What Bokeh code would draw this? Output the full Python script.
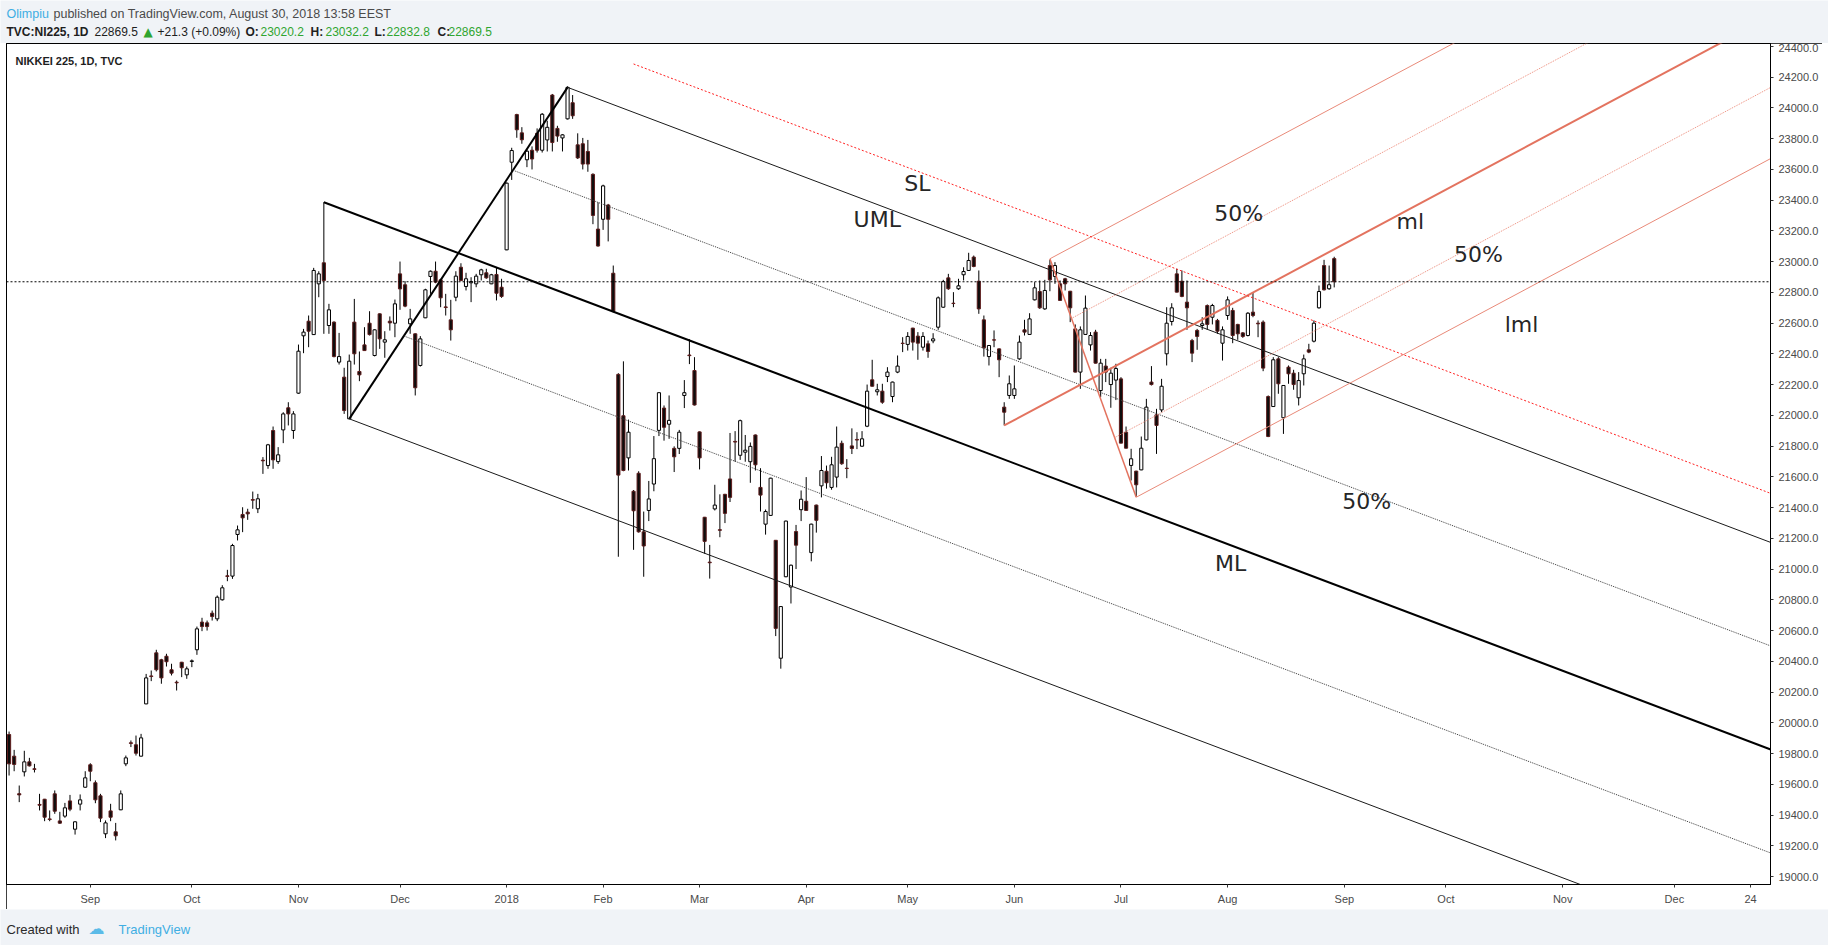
import numpy as np
import pandas as pd
from bokeh.plotting import figure
from bokeh.models import Range1d, FixedTicker, PrintfTickFormatter, Label, Span, Spacer
from bokeh.layouts import column, row
from bokeh.embed import file_html
from bokeh.resources import INLINE
from bokeh.core.properties import value

GRAY = "#f0f3f7"

# ------------------------------------------------------------------ data
start_date = "2017-08-09"
end_date = "2018-12-31"
jp_holidays = ["2017-08-11", "2017-09-18", "2017-10-09", "2017-11-03", "2017-11-23",
               "2018-01-01", "2018-01-02", "2018-01-03", "2018-01-08", "2018-02-12",
               "2018-03-21", "2018-04-30", "2018-05-03", "2018-05-04", "2018-07-16"]

opens = [19925,19784,19540,19682,19747,19702,19470,19504,19376,19539,19363,19394,19493,19309,19472,19582,
         19728,19611,19526,19279,19428,19292,19435,19734,19871,19858,19784,20124,20306,20456,20411,20434,20346,20265,20395,20313,
         20400,20476,20656,20651,20714,20677,20801,20957,20955,21226,21356,21371,21453,21393,21709,21674,21902,21700,21906,22050,21902,
         22145,22518,22613,22526,22856,22993,22585,22607,22347,22249,21978,22607,22286,22459,22600,22390,22661,22477,22613,22600,
         22921,22850,22596,22531,22325,22635,22904,22938,22882,22706,22622,22769,22964,22839,22863,22856,22915,22928,22856,22917,22834,
         23077,23647,23957,23838,23663,23725,23835,23725,23792,24084,23867,23805,23929,24034,23760,23767,23717,23568,23212,
         23276,23369,22925,22267,21998,21724,21507,21624,21243,21382,21554,21903,22048,21943,21786,21786,22130,22393,22292,
         21893,21338,21046,21392,21257,21487,21587,21831,21741,21761,21699,21873,21532,21293,21350,21188,20421,20951,20884,21245,21387,
         21442,21108,21417,21542,21637,21532,21599,21819,21657,21802,21844,21800,21930,22232,22154,22158,22253,22123,22282,22470,
         22462,22568,22516,22444,22466,22485,22574,22704,22895,22730,22824,22915,22943,23030,22873,22622,22383,22492,22433,22054,22130,
         22130,22368,22557,22527,22752,22806,22693,22975,22904,22856,22889,22808,22563,22282,22527,22459,22542,22162,22321,22201,22230,
         22238,21891,21675,21638,21646,21841,22217,22004,22036,22401,22611,22921,22873,22737,22487,22553,22585,22715,22639,22618,22470,
         22650,22683,22592,22537,22520,22672,22600,22607,22123,22058,22368,21985,22314,22275,22115,22271,22427,22483,22700,22975,22824,23020.2]
highs = [19944,19825,19593,19819,19773,19734,19539,19506,19431,19561,19422,19480,19532,19361,19535,19686,
         19738,19626,19539,19366,19474,19350,19561,19788,19886,19918,19929,20319,20341,20476,20417,20450,20385,20276,20397,20367,
         20413,20627,20684,20666,20731,20829,20896,20996,21165,21284,21403,21393,21505,21490,21729,21815,21928,21794,22021,22086,22028,
         22461,22563,22650,22960,22938,23387,22726,22612,22537,22310,22396,22758,22416,22574,22678,22560,22664,22548,22644,22754,
         23001,22873,22693,22534,22516,22824,22943,23001,22889,22791,22752,22938,22990,22928,22899,22921,22954,22954,22921,22964,22889,
         23515,23741,23962,23875,23734,23750,23867,23967,23917,24091,23884,23830,24141,24084,23835,23805,23792,23575,23386,
         23501,23376,22975,22275,22352,21973,21515,21637,21375,21574,21866,22150,22065,22130,21799,21906,22230,22496,22379,
         21896,21340,21158,21549,21487,21490,21886,21898,21973,21873,21824,21876,21657,21388,21595,21190,20760,21316,21030,21288,21512,
         21599,21296,21420,21736,21674,21731,21928,21836,21716,21916,21891,21898,22201,22362,22206,22206,22314,22220,22390,22509,
         22542,22570,22542,22542,22487,22535,22774,22882,22921,22802,22889,22964,23058,23040,22943,22650,22458,22553,22436,22086,22260,
         22325,22520,22622,22665,22867,22878,22882,23012,22997,22878,22895,22810,22592,22579,22780,22542,22557,22368,22368,22310,22336,
         22249,21928,21783,21640,21863,22108,22321,22043,22238,22704,22730,22954,22943,22878,22498,22563,22639,22722,22726,22628,22579,
         22774,22700,22596,22542,22672,22802,22618,22618,22130,22379,22379,22198,22325,22297,22282,22396,22466,22618,22845,23012,22975,23032.2]
lows = [19658,19686,19485,19652,19717,19678,19431,19361,19361,19409,19344,19383,19426,19274,19431,19580,
        19621,19478,19355,19251,19361,19236,19433,19719,19843,19788,19782,20122,20272,20335,20255,20367,20309,20211,20298,20287,
        20363,20443,20597,20601,20666,20662,20796,20922,20937,21187,21241,21321,21393,21365,21620,21653,21653,21685,21820,21935,21848,
        22141,22405,22444,22524,22769,22531,22531,22378,22331,22010,21976,22331,22223,22420,22520,22384,22433,22375,22552,22509,
        22687,22704,22531,22130,22318,22633,22791,22860,22704,22650,22487,22743,22873,22813,22737,22834,22878,22889,22854,22748,22765,
        23075,23532,23806,23767,23615,23600,23710,23710,23717,23717,23780,23717,23925,23929,23668,23600,23585,23244,23098,
        23207,23132,22671,21081,21637,21642,21126,21238,20951,21313,21507,21866,21836,21848,21632,21749,22048,22334,22065,
        21649,21101,20939,21382,21208,21300,21437,21699,21711,21699,21562,21642,21375,21225,21347,20565,20353,20948,20777,21001,21313,
        21380,21051,21238,21467,21524,21517,21532,21679,21592,21749,21781,21798,21924,22188,22130,22076,22217,22086,22275,22412,
        22422,22422,22362,22422,22375,22470,22557,22700,22817,22704,22817,22878,22940,22964,22661,22383,22325,22444,22249,21935,22108,
        22108,22362,22520,22525,22748,22693,22687,22808,22856,22745,22813,22607,22280,22173,22525,22422,22338,22119,22217,22050,22100,
        21818,21785,21577,21473,21644,21838,22195,21750,22021,22325,22585,22800,22769,22557,22347,22427,22557,22557,22592,22531,22357,
        22622,22470,22492,22505,22514,22639,22509,22288,21859,22055,22141,21880,22206,22167,22065,22195,22405,22475,22695,22813,22817,22832.8]
closes = [19734,19730,19532,19747,19721,19698,19465,19387,19372,19426,19348,19448,19439,19357,19500,19643,
          19686,19500,19381,19350,19387,19266,19539,19773,19867,19803,19903,20293,20302,20346,20293,20398,20324,20261,20359,20352,
          20404,20612,20627,20627,20692,20818,20879,20953,21154,21256,21334,21360,21449,21458,21705,21809,21711,21744,22010,22010,22010,
          22418,22542,22548,22943,22921,22878,22687,22383,22383,22032,22353,22401,22264,22422,22526,22557,22498,22492,22602,22726,
          22823,22711,22628,22180,22498,22817,22938,22867,22765,22702,22557,22906,22878,22889,22871,22906,22947,22895,22915,22795,22774,
          23511,23723,23858,23793,23719,23668,23725,23959,23874,23775,23817,23825,24134,23949,23675,23635,23635,23301,23102,
          23493,23276,22678,21612,21642,21891,21380,21243,21151,21457,21719,22148,21923,21968,21731,21891,22148,22389,22068,
          21724,21181,21042,21417,21253,21363,21467,21827,21966,21774,21799,21679,21482,21375,21592,20615,20757,21313,21026,21156,21455,
          21382,21293,21318,21642,21562,21679,21794,21686,21655,21785,21840,21848,22158,22190,22167,22086,22282,22217,22321,22468,
          22514,22477,22470,22514,22416,22498,22765,22871,22824,22728,22843,22936,23008,22969,22693,22440,22455,22490,22362,22021,22206,
          22173,22477,22542,22628,22830,22700,22813,22882,22975,22748,22856,22700,22282,22557,22698,22520,22340,22340,22282,22275,22305,
          21820,21787,21718,21549,21787,22054,22201,21935,22190,22600,22700,22802,22774,22700,22405,22514,22596,22592,22715,22548,22557,
          22752,22520,22531,22514,22665,22650,22596,22308,21863,22362,22206,22195,22271,22201,22227,22368,22412,22600,22806,22817,22850,22869.5]

month_keys = ["2017-09", "2017-10", "2017-11", "2017-12", "2018-01", "2018-02", "2018-03", "2018-04",
              "2018-05", "2018-06", "2018-07", "2018-08", "2018-09", "2018-10", "2018-11", "2018-12"]
month_labels = ["Sep", "Oct", "Nov", "Dec", "2018", "Feb", "Mar", "Apr",
                "May", "Jun", "Jul", "Aug", "Sep", "Oct", "Nov", "Dec"]
day_tick_date = "2018-12-24"
day_tick_label = "24"
y_ticks = [19000, 19200, 19400, 19600, 19800, 20000, 20200, 20400, 20600, 20800, 21000, 21200, 21400,
           21600, 21800, 22000, 22200, 22400, 22600, 22800, 23000, 23200, 23400, 23600, 23800, 24000, 24200, 24400]
last_close = 22869.5

# pitchfork pivots (bar index, price)
fork1_x = [62, 67, 110]
fork1_y = [23387, 21978, 24134]
fork2_x = [196, 205, 222]
fork2_y = [21935, 23019, 21468]
sl_x = [123.0, 346.9]
sl_y = [24286, 21494]

note_texts = ["SL", "UML", "ML", "50%", "ml", "50%", "lml", "50%"]
note_x = [178.9, 171.0, 240.6, 242.2, 276.0, 289.4, 297.9, 267.4]
note_y = [23509, 23274, 21037, 23313, 23261, 23046, 22590, 21439]

# ------------------------------------------------------------------ calendar
days = pd.bdate_range(start_date, end_date)
days = days[~days.strftime("%Y-%m-%d").isin(jp_holidays)]
ym = np.asarray(days.strftime("%Y-%m"))
tick_pos = [int(np.argmax(ym == k)) for k in month_keys]
tick_lab = list(month_labels)
tick_pos.append(int(np.where(np.asarray(days.strftime("%Y-%m-%d")) == day_tick_date)[0][0]))
tick_lab.append(day_tick_label)

# ------------------------------------------------------------------ geometry (page starts at 0,0)
PAGE_W = 1828
LEFT = 6                      # page x of the chart box
MAIN_W = 1816                 # 6 .. 1822
H_HDR, H_MAIN, H_FTR = 43, 866, 36
FRAME_W, FRAME_H = 1764, 841  # frame: page x 6..1770, y 43..884
X0, X1 = -0.506, 346.93
Y0, Y1 = 18949.3, 24419.2


def xd(px):  # page x -> data x
    return X0 + (px - LEFT) * (X1 - X0) / FRAME_W


def yd(py):  # page y -> data y
    return Y1 - (py - H_HDR) * (Y1 - Y0) / FRAME_H


p = figure(width=MAIN_W, height=H_MAIN, x_range=Range1d(X0, X1), y_range=Range1d(Y0, Y1),
           y_axis_location="right", toolbar_location=None, output_backend="svg",
           min_border_left=0, min_border_right=MAIN_W - FRAME_W, min_border_top=0,
           min_border_bottom=H_MAIN - FRAME_H,
           background_fill_color="white", border_fill_color="white",
           outline_line_color="black", outline_line_width=1)
p.grid.visible = False
p.styles = {"outline": "1px solid #000000", "outline-offset": "-1px"}

xa = p.xaxis[0]
xa.ticker = FixedTicker(ticks=tick_pos)
xa.major_label_overrides = {float(t): lab for t, lab in zip(tick_pos, tick_lab)}
xa.major_tick_out = 3
xa.major_tick_in = 0
xa.major_label_standoff = 5
xa.major_label_text_font = "Liberation Sans"
xa.major_label_text_font_size = "11px"
xa.major_label_text_color = "#4a4a4a"
xa.axis_line_color = "black"
xa.major_tick_line_color = "#333333"

ya = p.yaxis[0]
ya.ticker = FixedTicker(ticks=y_ticks)
ya.formatter = PrintfTickFormatter(format="%.1f")
ya.major_tick_out = 3
ya.major_tick_in = 0
ya.major_label_standoff = 5
ya.major_label_text_font = "Liberation Sans"
ya.major_label_text_font_size = "11px"
ya.major_label_text_color = "#4a4a4a"
ya.axis_line_color = "black"
ya.major_tick_line_color = "#333333"

# candles
x = np.arange(len(opens))
o = np.array(opens, float)
h = np.array(highs, float)
lo = np.array(lows, float)
c = np.array(closes, float)
up = c >= o
dn = ~up
p.segment(x, h, x, lo, line_color="black", line_width=1)
p.vbar(x=x[up], width=0.62, top=c[up], bottom=o[up], fill_color="white", line_color="black", line_width=1)
p.vbar(x=x[dn], width=0.62, top=o[dn], bottom=c[dn], fill_color="#0d0d0d", line_color="#5e1d1d", line_width=1)

# last price line
p.add_layout(Span(location=last_close, dimension="width", line_color="black", line_width=1, line_dash="2 2"))

X_FAR = 420.0


def fork_lines(xs, ys):
    ax, bx, cxx = xs
    ay, by, cyy = ys
    mx, my = (bx + cxx) / 2.0, (by + cyy) / 2.0
    s = (my - ay) / (mx - ax)

    def ray(x0, y0):
        return [x0, X_FAR], [y0, y0 + s * (X_FAR - x0)]
    return {
        "median": ray(ax, ay),
        "handle": ([bx, cxx], [by, cyy]),
        "par_b": ray(bx, by),
        "par_c": ray(cxx, cyy),
        "half_b": ray((bx + mx) / 2.0, (by + my) / 2.0),
        "half_c": ray((cxx + mx) / 2.0, (cyy + my) / 2.0),
    }


f1 = fork_lines(fork1_x, fork1_y)
p.line(*f1["median"], line_color="black", line_width=2)
p.line(*f1["handle"], line_color="black", line_width=2)
p.line(*f1["par_b"], line_color="#1a1a1a", line_width=1)
p.line(*f1["par_c"], line_color="#1a1a1a", line_width=1)
p.line(*f1["half_b"], line_color="#3a3a3a", line_width=1, line_dash="1 1")
p.line(*f1["half_c"], line_color="#3a3a3a", line_width=1, line_dash="1 1")

SAL = "#e3735f"
f2 = fork_lines(fork2_x, fork2_y)
p.line(*f2["median"], line_color=SAL, line_width=2)
p.line(*f2["handle"], line_color=SAL, line_width=1.5)
p.line(*f2["par_b"], line_color="#e98a79", line_width=1)
p.line(*f2["par_c"], line_color="#e98a79", line_width=1)
p.line(*f2["half_b"], line_color="#ec8c7b", line_width=1, line_dash="1 1")
p.line(*f2["half_c"], line_color="#ec8c7b", line_width=1, line_dash="1 1")

p.line(sl_x, sl_y, line_color="#ff2020", line_width=1, line_dash="2 2")

p.text(x=note_x, y=note_y, text=note_texts, text_font=value("DejaVu Sans"), text_font_size="22px",
       text_align="center", text_baseline="middle", text_color="#262626")

# title inside the chart
p.add_layout(Label(x=xd(15), y=yd(60), text="NIKKEI 225, 1D, TVC", text_font="Liberation Sans",
                   text_font_size="11px", text_font_style="bold", text_color="#1e1e1e",
                   text_align="left", text_baseline="middle"))

# ------------------------------------------------------------------ header / footer


def strip(height):
    f = figure(width=PAGE_W, height=height, x_range=Range1d(0, PAGE_W), y_range=Range1d(height, 0),
               toolbar_location=None, output_backend="svg", min_border=0,
               x_axis_type=None, y_axis_type=None, outline_line_color=None,
               background_fill_color=GRAY, border_fill_color=GRAY)
    f.grid.visible = False
    return f


hdr = strip(H_HDR)
GREEN = "#2fa52f"
DARK = "#1e1e1e"
header_pieces = [
    ("Olimpiu", 6, 13, "#3faee3", "normal", 12.5, "Liberation Sans"),
    ("published on TradingView.com, August 30, 2018 13:58 EEST", 53, 13, "#4a4a4a", "normal", 12.5, "Liberation Sans"),
    ("TVC:NI225, 1D", 6, 31, DARK, "bold", 12, "Liberation Sans"),
    ("22869.5", 94, 31, DARK, "normal", 12, "Liberation Sans"),
    ("\u25B2", 143, 31, GREEN, "normal", 12, "DejaVu Sans"),
    ("+21.3 (+0.09%)", 157, 31, DARK, "normal", 12, "Liberation Sans"),
    ("O:", 245, 31, DARK, "bold", 12, "Liberation Sans"),
    ("23020.2", 260, 31, GREEN, "normal", 12, "Liberation Sans"),
    ("H:", 310, 31, DARK, "bold", 12, "Liberation Sans"),
    ("23032.2", 325, 31, GREEN, "normal", 12, "Liberation Sans"),
    ("L:", 374, 31, DARK, "bold", 12, "Liberation Sans"),
    ("22832.8", 386, 31, GREEN, "normal", 12, "Liberation Sans"),
    ("C:", 437, 31, DARK, "bold", 12, "Liberation Sans"),
    ("22869.5", 448, 31, GREEN, "normal", 12, "Liberation Sans"),
]
for txt, px, py, col, sty, fs, fnt in header_pieces:
    hdr.add_layout(Label(x=px, y=py, text=txt, text_color=col, text_font_style=sty,
                         text_font_size=f"{fs}px", text_font=fnt, text_align="left", text_baseline="middle"))

ftr = strip(H_FTR)
ftr.add_layout(Label(x=6, y=20, text="Created with", text_color="#2a2a2a", text_font="Liberation Sans",
                     text_font_size="13px", text_align="left", text_baseline="middle"))
ftr.add_layout(Label(x=88, y=19, text="\u2601", text_color="#5bbbe8", text_font="DejaVu Sans",
                     text_font_size="16px", text_align="left", text_baseline="middle"))
ftr.add_layout(Label(x=118, y=20, text="TradingView", text_color="#3faee3", text_font="Liberation Sans",
                     text_font_size="13px", text_align="left", text_baseline="middle"))

mid = row(Spacer(width=LEFT, height=H_MAIN), p, Spacer(width=PAGE_W - LEFT - MAIN_W, height=H_MAIN), spacing=0)
layout = column(hdr, mid, ftr, spacing=0)

html = file_html(layout, INLINE, title="NIKKEI 225")
html = html.replace("<body>", '<body style="background-color:%s;">' % GRAY, 1)
with open("out.html", "w") as fh:
    fh.write(html)
